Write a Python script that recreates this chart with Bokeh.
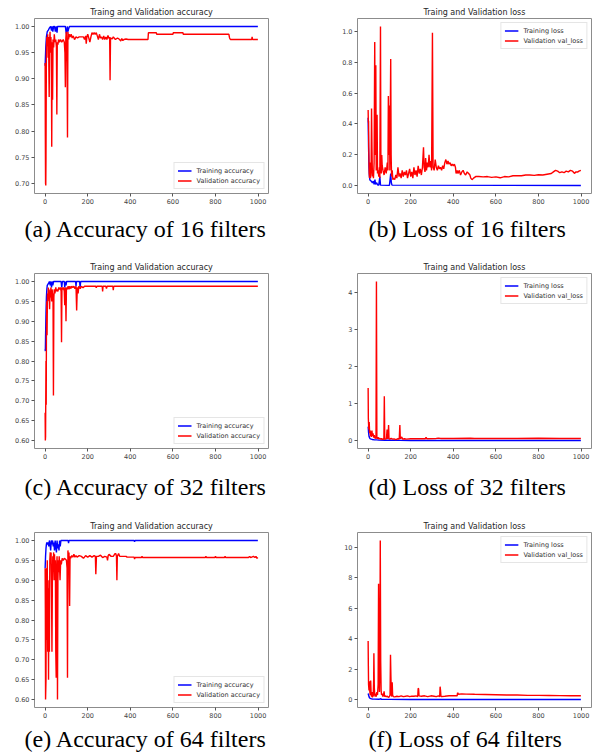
from bokeh.plotting import figure
from bokeh.layouts import column, row
from bokeh.models import Range1d, FixedTicker, NumeralTickFormatter, Title, Legend, LegendItem
from bokeh.embed import file_html
from bokeh.resources import INLINE

# ---------------- data (epoch, value) ----------------
X_TICKS = [0, 200, 400, 600, 800, 1000]

ACC_TITLE = "Traing and Validation accuracy"
LOSS_TITLE = "Traing and Validation loss"
ACC_LABELS = ["Training accuracy", "Validation accuracy"]
LOSS_LABELS = ["Training loss", "Validation val_loss"]
CAPTIONS = ["(a) Accuracy of 16 filters", "(b) Loss of 16 filters",
            "(c) Accuracy of 32 filters", "(d) Loss of 32 filters",
            "(e) Accuracy of 64 filters", "(f) Loss of 64 filters"]

# (a) 16 filters accuracy
TRAIN_ACC_16 = [(0, 0.925), (3, 0.96), (6, 0.98), (10, 0.99), (15, 0.993), (20, 0.997), (26, 1.0),
                (30, 0.992), (33, 1.0), (36, 0.99), (40, 1.0), (44, 1.0), (48, 0.99), (52, 1.0),
                (56, 0.988), (58, 1.0), (62, 1.0), (95, 1.0), (98, 0.99), (101, 0.985), (104, 1.0),
                (107, 0.99), (110, 0.995), (114, 1.0), (999, 1.0)]
VAL_ACC_16 = [(0, 0.93), (1, 0.79), (2, 0.70), (3, 0.696), (4, 0.75), (6, 0.96), (8, 0.98), (10, 0.97),
              (12, 0.985), (14, 0.94), (16, 0.98), (19, 0.865), (21, 0.97), (23, 0.99), (25, 0.95),
              (27, 0.98), (29, 0.96), (31, 0.77), (33, 0.97), (35, 0.86), (37, 0.975), (40, 0.96),
              (43, 0.985), (46, 0.97), (50, 0.975), (53, 0.96), (55, 0.832), (57, 0.97), (60, 0.965),
              (63, 0.975), (67, 0.97), (72, 0.975), (78, 0.97), (85, 0.975), (90, 0.97), (93, 0.95),
              (95, 0.884), (97, 0.975), (99, 0.99), (101, 0.97), (103, 0.93), (105, 0.788), (107, 0.99),
              (110, 0.975), (113, 0.985), (117, 0.98), (122, 0.985), (127, 0.978), (132, 0.982),
              (138, 0.975), (145, 0.98), (152, 0.978), (160, 0.98), (170, 0.98), (180, 0.98),
              (185, 0.975), (190, 0.982), (193, 0.967), (196, 0.98), (200, 0.985), (205, 0.978),
              (210, 0.97), (215, 0.98), (220, 0.988), (225, 0.985), (230, 0.988), (235, 0.985),
              (240, 0.988), (245, 0.982), (250, 0.975), (255, 0.985), (260, 0.978), (265, 0.98),
              (270, 0.975), (275, 0.982), (280, 0.975), (285, 0.98), (290, 0.975), (295, 0.983),
              (300, 0.977), (303, 0.98), (305, 0.897), (307, 0.978), (315, 0.976), (320, 0.98),
              (330, 0.975), (340, 0.978), (350, 0.975), (355, 0.972), (360, 0.977), (365, 0.973),
              (370, 0.975), (380, 0.976), (390, 0.975), (483, 0.975), (485, 0.988), (522, 0.988),
              (524, 0.985), (600, 0.985), (602, 0.988), (647, 0.988), (649, 0.985), (863, 0.985),
              (866, 0.978), (870, 0.975), (970, 0.975), (972, 0.98), (974, 0.975), (999, 0.975)]

# (b) 16 filters loss
TRAIN_LOSS_16 = [(0, 0.44), (1, 0.35), (2, 0.25), (4, 0.12), (6, 0.06), (8, 0.04), (10, 0.035),
                 (15, 0.03), (20, 0.02), (25, 0.03), (28, 0.01), (32, 0.04), (35, 0.01), (40, 0.02),
                 (45, 0.005), (50, 0.005), (55, 0.06), (58, 0.005), (100, 0.003), (103, 0.04),
                 (106, 0.08), (109, 0.02), (112, 0.005), (999, 0.002)]
VAL_LOSS_16 = [(0, 0.49), (1, 0.41), (2, 0.42), (3, 0.25), (5, 0.08), (7, 0.05), (9, 0.15), (11, 0.05),
               (14, 0.1), (16, 0.5), (18, 0.25), (20, 0.06), (22, 0.1), (25, 0.05), (28, 0.15),
               (31, 0.93), (33, 0.2), (36, 0.78), (38, 0.1), (40, 0.2), (42, 0.46), (44, 0.08),
               (47, 0.1), (50, 0.06), (53, 0.12), (55, 0.05), (58, 1.03), (60, 0.1), (62, 0.08),
               (64, 0.2), (66, 0.13), (70, 0.1), (75, 0.07), (80, 0.12), (85, 0.08), (90, 0.15),
               (93, 0.1), (95, 0.58), (97, 0.2), (100, 0.52), (102, 0.1), (104, 0.45), (106, 0.82),
               (108, 0.2), (110, 0.06), (113, 0.1), (116, 0.04), (120, 0.05), (125, 0.04), (130, 0.07),
               (135, 0.05), (140, 0.12), (145, 0.06), (150, 0.08), (155, 0.05), (160, 0.1), (165, 0.06),
               (170, 0.09), (175, 0.07), (180, 0.1), (185, 0.05), (190, 0.08), (195, 0.11), (200, 0.06),
               (205, 0.09), (210, 0.05), (215, 0.12), (220, 0.07), (225, 0.1), (230, 0.06), (235, 0.13),
               (240, 0.08), (245, 0.11), (250, 0.07), (255, 0.12), (260, 0.25), (263, 0.12), (267, 0.09),
               (270, 0.18), (274, 0.1), (278, 0.15), (282, 0.12), (286, 0.2), (290, 0.12), (294, 0.16),
               (298, 0.1), (302, 0.99), (305, 0.12), (310, 0.1), (315, 0.17), (320, 0.12), (325, 0.1),
               (330, 0.13), (335, 0.11), (340, 0.12), (345, 0.1), (350, 0.13), (355, 0.11), (360, 0.15),
               (365, 0.17), (370, 0.14), (375, 0.16), (380, 0.14), (385, 0.15), (390, 0.13), (395, 0.14),
               (400, 0.13), (405, 0.14), (410, 0.12), (413, 0.08), (418, 0.1), (422, 0.08), (428, 0.1),
               (434, 0.07), (440, 0.09), (446, 0.1), (452, 0.08), (458, 0.07), (465, 0.09), (472, 0.08),
               (478, 0.07), (482, 0.05), (488, 0.04), (495, 0.05), (505, 0.06), (520, 0.06), (540, 0.058),
               (560, 0.06), (580, 0.055), (600, 0.058), (620, 0.052), (640, 0.06), (660, 0.058),
               (680, 0.065), (700, 0.066), (720, 0.065), (740, 0.07), (760, 0.07), (780, 0.068),
               (800, 0.072), (820, 0.07), (840, 0.075), (860, 0.08), (870, 0.09), (880, 0.1),
               (890, 0.095), (900, 0.085), (910, 0.09), (920, 0.085), (930, 0.095), (940, 0.09),
               (950, 0.1), (960, 0.095), (970, 0.08), (975, 0.09), (985, 0.09), (990, 0.095), (999, 0.1)]

# (c) 32 filters accuracy
TRAIN_ACC_32 = [(0, 0.83), (1, 0.825), (2, 0.86), (4, 0.92), (6, 0.96), (8, 0.98), (10, 0.99), (13, 0.993),
                (16, 0.995), (20, 1.0), (24, 0.99), (27, 1.0), (30, 0.985), (33, 1.0), (36, 0.99),
                (40, 1.0), (75, 1.0), (78, 0.985), (81, 1.0), (90, 1.0), (92, 0.985), (95, 1.0),
                (98, 0.99), (101, 1.0), (143, 1.0), (145, 0.988), (147, 1.0), (162, 1.0), (164, 0.985),
                (167, 1.0), (999, 1.0)]
VAL_ACC_32 = [(0, 0.67), (1, 0.60), (2, 0.61), (4, 0.80), (5, 0.69), (6, 0.86), (8, 0.95), (9, 0.865),
              (11, 0.97), (13, 0.95), (15, 0.985), (17, 0.96), (19, 0.98), (21, 0.93), (23, 0.975),
              (25, 0.96), (27, 0.985), (29, 0.97), (31, 0.95), (33, 0.98), (35, 0.96), (37, 0.97),
              (39, 0.713), (41, 0.96), (43, 0.98), (46, 0.97), (50, 0.985), (53, 0.975), (56, 0.98),
              (60, 0.975), (64, 0.985), (68, 0.98), (72, 0.985), (75, 0.975), (77, 0.847), (79, 0.985),
              (82, 0.98), (86, 0.985), (90, 0.975), (92, 0.94), (94, 0.985), (96, 0.97), (98, 0.90),
              (100, 0.985), (104, 0.98), (108, 0.988), (112, 0.98), (116, 0.988), (120, 0.982),
              (125, 0.988), (130, 0.985), (135, 0.988), (140, 0.982), (145, 0.988), (148, 0.927),
              (151, 0.985), (155, 0.97), (158, 0.988), (165, 0.982), (170, 0.988), (178, 0.984),
              (185, 0.988), (238, 0.988), (240, 0.984), (243, 0.988), (268, 0.988), (270, 0.975),
              (272, 0.988), (285, 0.988), (288, 0.982), (291, 0.988), (318, 0.988), (320, 0.978),
              (322, 0.988), (999, 0.988)]

# (d) 32 filters loss
TRAIN_LOSS_32 = [(0, 0.38), (1, 0.3), (2, 0.22), (4, 0.12), (7, 0.07), (10, 0.05), (15, 0.04), (20, 0.03),
                 (30, 0.02), (40, 0.02), (50, 0.015), (80, 0.01), (100, 0.01), (150, 0.008), (200, 0.005),
                 (999, 0.003)]
VAL_LOSS_32 = [(0, 1.42), (1, 0.6), (2, 0.45), (3, 0.3), (5, 0.5), (7, 0.2), (9, 0.28), (11, 0.12),
               (13, 0.25), (15, 0.1), (18, 0.27), (20, 0.12), (23, 0.2), (26, 0.08), (29, 0.15), (32, 0.06),
               (35, 0.1), (37, 0.05), (39, 4.3), (41, 0.1), (44, 0.05), (47, 0.09), (50, 0.04), (54, 0.07),
               (58, 0.04), (62, 0.06), (66, 0.03), (70, 0.05), (74, 0.03), (76, 1.2), (78, 0.05),
               (82, 0.04), (86, 0.06), (89, 0.3), (91, 0.05), (94, 0.15), (96, 0.42), (98, 0.05),
               (102, 0.04), (108, 0.06), (115, 0.04), (122, 0.05), (130, 0.03), (138, 0.05), (146, 0.04),
               (149, 0.42), (151, 0.05), (158, 0.1), (162, 0.04), (170, 0.05), (180, 0.04), (200, 0.05),
               (230, 0.05), (268, 0.05), (272, 0.09), (276, 0.05), (320, 0.06), (330, 0.07), (340, 0.06),
               (400, 0.06), (480, 0.065), (500, 0.06), (600, 0.06), (700, 0.06), (800, 0.065),
               (900, 0.06), (999, 0.06)]

# (e) 64 filters accuracy
TRAIN_ACC_64 = [(0, 0.93), (2, 0.96), (4, 0.98), (6, 0.99), (8, 0.995), (11, 0.99), (14, 0.995),
                (17, 0.985), (20, 1.0), (23, 0.99), (26, 0.975), (29, 1.0), (32, 0.99), (35, 1.0),
                (38, 0.985), (41, 0.995), (44, 0.975), (47, 1.0), (50, 0.985), (53, 0.97), (56, 1.0),
                (59, 0.98), (62, 0.99), (65, 0.975), (68, 1.0), (71, 0.985), (74, 1.0), (108, 1.0),
                (110, 0.993), (112, 1.0), (418, 1.0), (420, 0.997), (422, 1.0), (999, 1.0)]
VAL_ACC_64 = [(0, 0.93), (1, 0.83), (2, 0.60), (4, 0.65), (6, 0.93), (8, 0.75), (10, 0.95), (12, 0.72),
              (14, 0.88), (16, 0.65), (18, 0.9), (20, 0.72), (22, 0.95), (24, 0.97), (26, 0.94),
              (28, 0.97), (30, 0.88), (32, 0.72), (34, 0.9), (36, 0.96), (38, 0.93), (40, 0.97),
              (42, 0.9), (44, 0.965), (46, 0.92), (48, 0.95), (50, 0.72), (52, 0.655), (54, 0.93),
              (56, 0.96), (58, 0.60), (60, 0.9), (62, 0.95), (64, 0.92), (66, 0.96), (70, 0.9),
              (73, 0.95), (76, 0.94), (80, 0.955), (85, 0.95), (90, 0.955), (95, 0.953), (100, 0.95),
              (103, 0.93), (105, 0.655), (107, 0.975), (109, 0.96), (112, 0.97), (115, 0.835),
              (117, 0.96), (120, 0.955), (125, 0.962), (130, 0.958), (135, 0.965), (140, 0.958),
              (145, 0.962), (150, 0.958), (160, 0.962), (170, 0.96), (180, 0.955), (190, 0.962),
              (200, 0.958), (210, 0.962), (220, 0.958), (230, 0.962), (236, 0.96), (238, 0.915),
              (241, 0.96), (250, 0.96), (260, 0.963), (270, 0.957), (280, 0.96), (290, 0.958),
              (293, 0.95), (296, 0.962), (300, 0.965), (310, 0.96), (320, 0.96), (328, 0.967),
              (332, 0.967), (335, 0.96), (337, 0.90), (339, 0.96), (345, 0.967), (350, 0.96),
              (380, 0.96), (385, 0.958), (400, 0.958), (418, 0.958), (420, 0.953), (422, 0.957),
              (452, 0.957), (455, 0.96), (458, 0.957), (752, 0.957), (755, 0.96), (758, 0.957),
              (797, 0.957), (800, 0.96), (803, 0.957), (842, 0.957), (845, 0.96), (848, 0.957),
              (955, 0.957), (960, 0.96), (965, 0.957), (978, 0.96), (985, 0.957), (990, 0.96),
              (995, 0.955), (999, 0.957)]

# (f) 64 filters loss
TRAIN_LOSS_64 = [(0, 0.4), (2, 0.3), (4, 0.2), (6, 0.12), (10, 0.08), (15, 0.05), (20, 0.04), (30, 0.03),
                 (50, 0.02), (60, 0.06), (62, 0.02), (100, 0.015), (200, 0.01), (999, 0.005)]
VAL_LOSS_64 = [(0, 3.85), (1, 2.2), (2, 1.0), (4, 0.6), (6, 1.2), (8, 0.5), (10, 0.3), (12, 1.25),
               (14, 0.4), (16, 0.2), (18, 0.5), (20, 0.15), (22, 0.3), (24, 0.2), (26, 1.3), (27, 3.05),
               (29, 0.8), (31, 0.3), (33, 0.2), (35, 0.4), (38, 0.2), (41, 0.5), (44, 0.3), (47, 1.0),
               (49, 7.6), (51, 3.0), (53, 0.5), (55, 2.0), (57, 10.45), (59, 2.5), (61, 0.6), (63, 0.3),
               (66, 0.4), (69, 0.2), (72, 0.3), (75, 0.55), (77, 0.2), (80, 0.25), (85, 0.2), (90, 0.22),
               (95, 0.15), (100, 0.2), (103, 0.3), (105, 2.95), (107, 1.5), (109, 0.3), (111, 0.2),
               (113, 1.14), (115, 0.3), (118, 0.2), (125, 0.18), (135, 0.22), (145, 0.2), (155, 0.25),
               (165, 0.2), (175, 0.22), (185, 0.25), (195, 0.2), (205, 0.23), (215, 0.22), (225, 0.25),
               (233, 0.2), (235, 0.75), (237, 0.7), (239, 0.25), (250, 0.22), (265, 0.25), (280, 0.2),
               (295, 0.25), (310, 0.22), (320, 0.2), (330, 0.25), (336, 0.2), (338, 0.85), (340, 0.6),
               (342, 0.2), (360, 0.22), (380, 0.25), (400, 0.25), (418, 0.25), (420, 0.45), (425, 0.35),
               (440, 0.38), (460, 0.36), (500, 0.35), (550, 0.34), (600, 0.32), (650, 0.3), (700, 0.3),
               (750, 0.28), (800, 0.28), (850, 0.27), (900, 0.26), (950, 0.25), (999, 0.25)]

ACC_TICKS_70 = [0.70, 0.75, 0.80, 0.85, 0.90, 0.95, 1.00]
ACC_TICKS_60 = [0.60, 0.65, 0.70, 0.75, 0.80, 0.85, 0.90, 0.95, 1.00]
LOSS_TICKS_16 = [0.0, 0.2, 0.4, 0.6, 0.8, 1.0]
LOSS_TICKS_32 = [0, 1, 2, 3, 4]
LOSS_TICKS_64 = [0, 2, 4, 6, 8, 10]

BLUE = "#0000ff"
RED = "#ff0000"
FRAME_H = 175


def panel(train, val, labels, title, caption, yticks, yfmt, legend_loc,
          width, left, frame_w, height, top, cap_standoff, cap_offset):
    tx, ty = zip(*train)
    vx, vy = zip(*val)
    ally = list(ty) + list(vy)
    lo, hi = min(ally), max(ally)
    pad = 0.05 * (hi - lo)
    xpad = 0.05 * 999
    p = figure(width=width, height=height, output_backend="svg", toolbar_location=None,
               x_range=Range1d(0 - xpad, 999 + xpad), y_range=Range1d(lo - pad, hi + pad),
               min_border_left=left, min_border_right=width - left - frame_w,
               min_border_top=top, min_border_bottom=height - top - FRAME_H)
    p.grid.visible = False
    p.background_fill_color = "white"
    p.border_fill_color = "white"
    p.outline_line_color = "#8c8c8c"
    p.outline_line_width = 1

    p.title.text = title
    p.title.align = "center"
    p.title.text_font = "DejaVu Sans"
    p.title.text_font_size = "8px"
    p.title.text_font_style = "normal"
    p.title.text_color = "#262626"
    p.title.standoff = 3

    p.xaxis.ticker = FixedTicker(ticks=X_TICKS)
    p.yaxis.ticker = FixedTicker(ticks=yticks)
    p.yaxis.formatter = NumeralTickFormatter(format=yfmt)
    p.axis.axis_line_color = None
    p.axis.major_tick_line_color = "#555555"
    p.axis.major_tick_out = 3
    p.axis.major_tick_in = 0
    p.axis.minor_tick_line_color = None
    p.axis.major_label_text_font = "DejaVu Sans"
    p.axis.major_label_text_font_size = "6.5px"
    p.axis.major_label_text_color = "#444444"
    p.axis.major_label_standoff = 2

    r1 = p.line(tx, ty, color=BLUE, line_width=1.4)
    r2 = p.line(vx, vy, color=RED, line_width=1.4)

    leg = Legend(items=[LegendItem(label=labels[0], renderers=[r1]),
                        LegendItem(label=labels[1], renderers=[r2])],
                 location=legend_loc, label_text_font="DejaVu Sans", label_text_font_size="6.5px",
                 label_text_color="#333333", label_height=9, glyph_height=9, glyph_width=14,
                 label_standoff=5, spacing=1, padding=3, margin=4,
                 border_line_color="#cccccc", border_line_width=1, background_fill_alpha=0.85)
    p.add_layout(leg)

    cap = Title(text=caption, align="left", text_font="Liberation Serif", text_font_size="24px",
                text_font_style="normal", text_color="#000000", standoff=cap_standoff,
                offset=cap_offset)
    p.add_layout(cap, "below")
    return p


# page has no body margin: figures laid out over the full 595 x 756 window
LW, LL, LF = 322, 34, 234
RW, RL, RF = 273, 35, 234
H1, H2, H3 = 258, 259, 239
T1, T2, T3 = 18, 15, 15

pa = panel(TRAIN_ACC_16, VAL_ACC_16, ACC_LABELS, ACC_TITLE, CAPTIONS[0], ACC_TICKS_70, "0.00",
           "bottom_right", LW, LL, LF, H1, T1, 14, -10)
pb = panel(TRAIN_LOSS_16, VAL_LOSS_16, LOSS_LABELS, LOSS_TITLE, CAPTIONS[1], LOSS_TICKS_16, "0.0",
           "top_right", RW, RL, RF, H1, T1, 14, 11)
pc = panel(TRAIN_ACC_32, VAL_ACC_32, ACC_LABELS, ACC_TITLE, CAPTIONS[2], ACC_TICKS_60, "0.00",
           "bottom_right", LW, LL, LF, H2, T2, 20, -10)
pd = panel(TRAIN_LOSS_32, VAL_LOSS_32, LOSS_LABELS, LOSS_TITLE, CAPTIONS[3], LOSS_TICKS_32, "0",
           "top_right", RW, RL, RF, H2, T2, 20, 11)
pe = panel(TRAIN_ACC_64, VAL_ACC_64, ACC_LABELS, ACC_TITLE, CAPTIONS[4], ACC_TICKS_60, "0.00",
           "bottom_right", LW, LL, LF, H3, T3, 7, -10)
pf = panel(TRAIN_LOSS_64, VAL_LOSS_64, LOSS_LABELS, LOSS_TITLE, CAPTIONS[5], LOSS_TICKS_64, "0",
           "top_right", RW, RL, RF, H3, T3, 7, 11)

layout = column(row(pa, pb), row(pc, pd), row(pe, pf))
open("out.html", "w").write(file_html(layout, INLINE))
